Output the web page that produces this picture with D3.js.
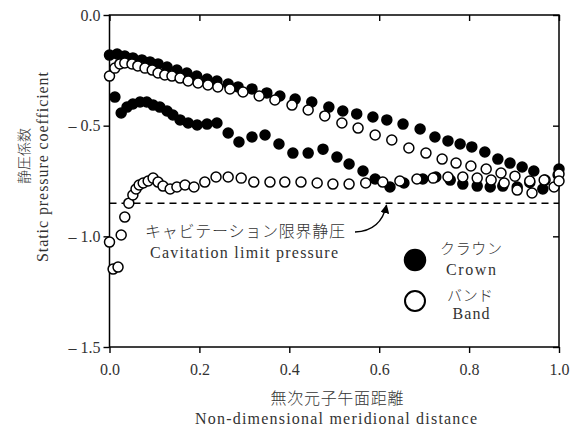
<!DOCTYPE html>
<html>
<head>
<meta charset="utf-8">
<script src="https://cdn.jsdelivr.net/npm/d3@7"></script>
<style>
  body { margin: 0; background: #fff; }
  text { font-family: "Liberation Serif", "Times New Roman", Tinos, "DejaVu Serif", serif; fill: #333; }
  text.jp { font-family: "Noto Sans CJK JP", "Noto Sans CJK SC", sans-serif; font-weight: 300; fill: #333; }
</style>
</head>
<body>
<svg id="chart" width="576" height="426"></svg>
<script>
// static pressure coefficient vs meridional distance
const crownUpper = [
  [0.0, -0.181], [0.017, -0.176], [0.034, -0.185], [0.052, -0.194], [0.072, -0.203],
  [0.090, -0.212], [0.108, -0.221], [0.128, -0.235], [0.150, -0.249], [0.172, -0.262],
  [0.194, -0.276], [0.217, -0.289], [0.239, -0.298], [0.264, -0.312], [0.286, -0.325],
  [0.317, -0.334], [0.350, -0.352], [0.379, -0.366], [0.413, -0.380], [0.450, -0.393],
  [0.488, -0.416], [0.519, -0.434], [0.550, -0.447], [0.586, -0.461], [0.617, -0.474],
  [0.653, -0.493], [0.691, -0.515], [0.724, -0.551], [0.753, -0.569], [0.780, -0.583],
  [0.806, -0.596], [0.835, -0.619], [0.864, -0.651], [0.891, -0.669], [0.918, -0.687],
  [0.944, -0.705], [1.0, -0.696]
];
const crownLower = [
  [0.012, -0.371], [0.026, -0.443], [0.039, -0.416], [0.052, -0.402], [0.068, -0.393],
  [0.083, -0.393], [0.097, -0.407], [0.112, -0.416], [0.128, -0.434], [0.141, -0.452],
  [0.157, -0.474], [0.175, -0.488], [0.195, -0.497], [0.217, -0.493], [0.239, -0.488],
  [0.264, -0.533], [0.288, -0.574], [0.317, -0.551], [0.346, -0.542], [0.377, -0.583],
  [0.408, -0.624], [0.442, -0.624], [0.475, -0.606], [0.506, -0.642], [0.533, -0.673],
  [0.564, -0.705], [0.591, -0.741], [0.624, -0.777], [0.655, -0.759], [0.697, -0.741],
  [0.726, -0.732], [0.758, -0.746], [0.786, -0.764], [0.818, -0.773], [0.847, -0.777],
  [0.875, -0.773], [0.907, -0.777], [0.935, -0.757], [0.964, -0.786], [0.998, -0.723]
];
const bandUpper = [
  [0.0, -0.276], [0.012, -0.240], [0.023, -0.221], [0.034, -0.217], [0.050, -0.221],
  [0.063, -0.230], [0.079, -0.240], [0.095, -0.249], [0.108, -0.262], [0.123, -0.271],
  [0.139, -0.276], [0.157, -0.285], [0.175, -0.298], [0.197, -0.307], [0.219, -0.316],
  [0.241, -0.325], [0.268, -0.334], [0.297, -0.348], [0.333, -0.366], [0.368, -0.384],
  [0.406, -0.407], [0.442, -0.429], [0.479, -0.456], [0.517, -0.488], [0.553, -0.511],
  [0.591, -0.542], [0.628, -0.565], [0.666, -0.601], [0.704, -0.624], [0.740, -0.651],
  [0.771, -0.669], [0.804, -0.682], [0.838, -0.696], [0.871, -0.714], [0.902, -0.728],
  [0.935, -0.750], [0.969, -0.746], [1.0, -0.718]
];
const bandLower = [
  [0.0, -1.026], [0.008, -1.148], [0.019, -1.139], [0.026, -0.994], [0.034, -0.913],
  [0.043, -0.850], [0.052, -0.813], [0.059, -0.786], [0.066, -0.768], [0.075, -0.759],
  [0.086, -0.750], [0.097, -0.737], [0.108, -0.755], [0.119, -0.773], [0.135, -0.786],
  [0.150, -0.777], [0.168, -0.768], [0.188, -0.777], [0.212, -0.755], [0.237, -0.732],
  [0.264, -0.732], [0.293, -0.737], [0.321, -0.755], [0.357, -0.755], [0.390, -0.755],
  [0.426, -0.755], [0.462, -0.759], [0.497, -0.764], [0.533, -0.764], [0.570, -0.759],
  [0.608, -0.755], [0.646, -0.750], [0.684, -0.741], [0.720, -0.737], [0.753, -0.732],
  [0.786, -0.732], [0.818, -0.737], [0.849, -0.746], [0.878, -0.759], [0.907, -0.791],
  [0.940, -0.804], [0.967, -0.746], [0.989, -0.777], [1.0, -0.750]
];
const cavitationLimit = -0.85;
const xTicks = [0, 0.2, 0.4, 0.6, 0.8, 1.0];
const yTicks = [0, -0.5, -1.0, -1.5];

const svg = d3.select("#chart");
const plotLeft = 109.5, plotRight = 559, plotTop = 15, plotBottom = 347;

const x = d3.scaleLinear().domain([0, 1]).range([plotLeft, plotRight]);
const y = d3.scaleLinear().domain([-1.5, 0]).range([plotBottom, plotTop]);

const fmtY = function(d) {
  const s = d3.format(".1f")(Math.abs(d));
  return d < 0 ? "\u2013 " + s : s;
};

// axes: outward ticks bottom/left, inward mirror ticks top/right
svg.append("g")
  .attr("transform", "translate(0," + plotBottom + ")")
  .call(d3.axisBottom(x).tickValues(xTicks).tickSize(6).tickSizeOuter(0).tickPadding(11)
    .tickFormat(d3.format(".1f")));
svg.append("g")
  .attr("transform", "translate(" + plotLeft + ",0)")
  .call(d3.axisLeft(y).tickValues(yTicks).tickSize(6).tickSizeOuter(0).tickPadding(3)
    .tickFormat(fmtY));
svg.append("g")
  .attr("transform", "translate(0," + plotTop + ")")
  .call(d3.axisTop(x).tickValues(xTicks).tickSize(-6).tickSizeOuter(0).tickFormat(""));
svg.append("g")
  .attr("transform", "translate(" + plotRight + ",0)")
  .call(d3.axisRight(y).tickValues(yTicks).tickSize(-6).tickSizeOuter(0).tickFormat(""));

svg.selectAll("g").attr("font-family", null);
svg.selectAll(".domain").remove();
svg.selectAll(".tick line").attr("stroke", "#000").attr("stroke-width", 1.4);
svg.selectAll(".tick text")
  .style("font-size", "16px")
  .attr("fill", null);

svg.append("rect")
  .attr("x", plotLeft).attr("y", plotTop)
  .attr("width", plotRight - plotLeft).attr("height", plotBottom - plotTop)
  .attr("fill", "none").attr("stroke", "#000").attr("stroke-width", 1.5);

// cavitation limit
svg.append("line")
  .attr("x1", x(0)).attr("x2", x(1))
  .attr("y1", y(cavitationLimit)).attr("y2", y(cavitationLimit))
  .attr("stroke", "#000").attr("stroke-width", 1.5)
  .attr("stroke-dasharray", "7,5");

// markers
const r = 5;
function dots(data, filled) {
  svg.append("g").selectAll("circle")
    .data(data)
    .enter().append("circle")
    .attr("cx", function(d) { return x(d[0]); })
    .attr("cy", function(d) { return y(d[1]); })
    .attr("r", r)
    .attr("fill", filled ? "#000" : "#fff")
    .attr("stroke", "#000")
    .attr("stroke-width", 1.5);
}
dots(crownUpper, true);
dots(crownLower, true);
dots(bandUpper, false);
dots(bandLower, false);

// text helper: width fixed to the reference so the font choice does not shift layout
function label(str, cx, cy, size, width, jp, rotate) {
  const t = svg.append("text")
    .attr("class", jp ? "jp" : null)
    .attr("text-anchor", "middle")
    .style("font-size", size + "px")
    .text(str);
  if (width) t.attr("textLength", width).attr("lengthAdjust", "spacing");
  if (rotate) t.attr("transform", "translate(" + cx + "," + cy + ") rotate(-90)");
  else t.attr("x", cx).attr("y", cy);
  return t;
}

// annotation
label("キャビテーション限界静圧", 245, 237, 16, 200, true);
label("Cavitation limit pressure", 244, 258, 16, 188, false);

svg.append("defs").append("marker")
  .attr("id", "head")
  .attr("viewBox", "0 0 10 10")
  .attr("refX", 9).attr("refY", 5)
  .attr("markerWidth", 9).attr("markerHeight", 9)
  .attr("markerUnits", "userSpaceOnUse")
  .attr("orient", "auto")
  .append("path").attr("d", "M0,0L10,5L0,10z").attr("fill", "#000");
svg.append("path")
  .attr("d", "M355,232 Q381,231 386.5," + (y(cavitationLimit) + 2))
  .attr("fill", "none").attr("stroke", "#000").attr("stroke-width", 1.4)
  .attr("marker-end", "url(#head)");

// legend
svg.append("circle").attr("cx", 415).attr("cy", 260).attr("r", 10.5)
  .attr("fill", "#000").attr("stroke", "#000").attr("stroke-width", 1.5);
svg.append("circle").attr("cx", 415).attr("cy", 301).attr("r", 10)
  .attr("fill", "#fff").attr("stroke", "#000").attr("stroke-width", 2);
label("クラウン", 471, 254, 15, 62, true);
label("Crown", 471, 275, 16, 50, false);
label("バンド", 470, 301, 15, 46, true);
label("Band", 471, 319, 16, 37, false);

// axis titles
label("無次元子午面距離", 337, 404, 16, 133, true);
label("Non-dimensional meridional distance", 336, 424, 16, 282, false);
label("静圧係数", 29, 156, 14, null, true, true);
label("Static pressure coefficient", 48, 167, 16, 190, false, true);
</script>
</body>
</html>
